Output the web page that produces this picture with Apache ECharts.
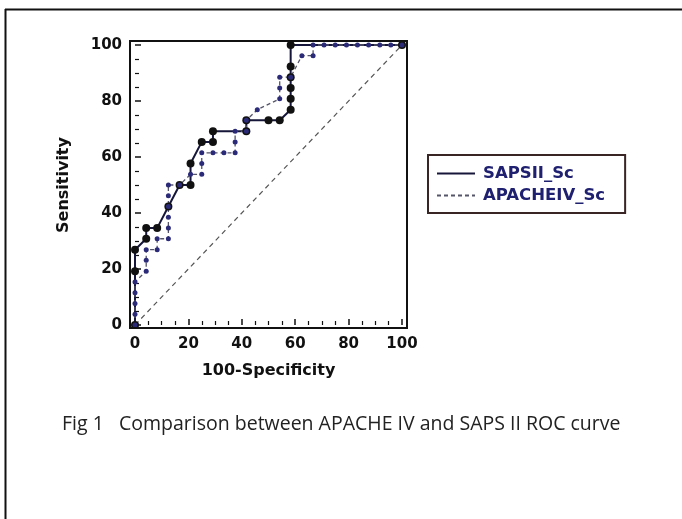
<!DOCTYPE html>
<html>
<head>
<meta charset="utf-8">
<script src="https://cdn.jsdelivr.net/npm/echarts@6/dist/echarts.min.js"></script>
<style>
  html, body { margin: 0; padding: 0; background: #fff; }
  #main { width: 682px; height: 519px; }
</style>
</head>
<body>
<div id="main"></div>
<script>
// ROC points (100-Specificity, Sensitivity)
const sapsX = [0, 0, 0, 4.2, 4.2, 8.3, 12.5, 16.7, 20.8, 20.8, 25, 29.2, 29.2, 41.7, 41.7, 50, 54.2, 58.3, 58.3, 58.3, 58.3, 58.3, 58.3, 100];
const sapsY = [0, 19.2, 26.9, 30.8, 34.6, 34.6, 42.3, 50, 50, 57.7, 65.4, 65.4, 69.2, 69.2, 73.1, 73.1, 73.1, 76.9, 80.8, 84.6, 88.5, 92.3, 100, 100];

const apacheX = [0, 0, 0, 0, 0, 4.2, 4.2, 4.2, 8.3, 8.3, 12.5, 12.5, 12.5, 12.5, 12.5, 12.5, 16.7, 20.8, 25, 25, 25, 29.2, 33.3, 37.5, 37.5, 37.5, 41.7, 41.7, 45.8, 54.2, 54.2, 54.2, 58.3, 62.5, 66.7, 66.7, 70.8, 75, 79.2, 83.3, 87.5, 91.7, 95.8, 100];
const apacheY = [0, 3.8, 7.7, 11.5, 15.4, 19.2, 23.1, 26.9, 26.9, 30.8, 30.8, 34.6, 38.5, 42.3, 46.2, 50, 50, 53.8, 53.8, 57.7, 61.5, 61.5, 61.5, 61.5, 65.4, 69.2, 69.2, 73.1, 76.9, 80.8, 84.6, 88.5, 88.5, 96.2, 96.2, 100, 100, 100, 100, 100, 100, 100, 100, 100];

const diagX = [0, 100];
const diagY = [0, 100];

const seriesNames = ['SAPSII_Sc', 'APACHEIV_Sc'];
const xTitle = '100-Specificity';
const yTitle = 'Sensitivity';
const caption = 'Fig 1   Comparison between APACHE IV and SAPS II ROC curve';

const zip = (xs, ys) => xs.map((x, i) => [x, ys[i]]);

const chart = echarts.init(document.getElementById('main'));

const labelFont = {
  color: '#111',
  fontFamily: 'DejaVu Sans',
  fontWeight: 'bold',
  fontSize: 15
};
const nameFont = Object.assign({}, labelFont, { fontSize: 16 });

const option = {
  backgroundColor: '#fff',
  animation: false,
  title: {
    text: caption,
    left: 57,
    top: 409,
    textStyle: {
      fontFamily: 'Open Sans',
      fontWeight: 'normal',
      fontSize: 19.5,
      color: '#222'
    }
  },
  grid: { left: 135, right: 280, top: 45, bottom: 194 },
  xAxis: {
    type: 'value',
    min: 0,
    max: 100,
    interval: 20,
    offset: 3,
    name: xTitle,
    nameLocation: 'middle',
    nameGap: 35,
    nameTextStyle: nameFont,
    axisLine: { show: false },
    axisTick: { show: true, inside: true, length: 6, lineStyle: { color: '#111', width: 1.5 } },
    minorTick: { show: true, splitNumber: 4, length: 4, lineStyle: { color: '#111', width: 1.2 } },
    axisLabel: Object.assign({ margin: 9 }, labelFont),
    splitLine: { show: false }
  },
  yAxis: {
    type: 'value',
    min: 0,
    max: 100,
    interval: 20,
    offset: 5,
    name: yTitle,
    nameLocation: 'middle',
    nameGap: 58,
    nameTextStyle: nameFont,
    axisLine: { show: false },
    axisTick: { show: true, inside: true, length: 6, lineStyle: { color: '#111', width: 1.5 } },
    minorTick: { show: true, splitNumber: 4, length: 4, lineStyle: { color: '#111', width: 1.2 } },
    axisLabel: Object.assign({ margin: 8 }, labelFont),
    splitLine: { show: false }
  },
  legend: {
    data: seriesNames,
    orient: 'vertical',
    left: 428,
    top: 155,
    padding: [10, 20, 9, 8],
    itemGap: 5,
    itemWidth: 38,
    itemHeight: 15,
    borderColor: '#3a2525',
    borderWidth: 2,
    itemStyle: { opacity: 0 },
    textStyle: {
      color: '#1f2070',
      fontFamily: 'DejaVu Sans',
      fontWeight: 'bold',
      fontSize: 16.5,
      padding: [0, 0, 0, 3]
    }
  },
  graphic: [
    { type: 'rect', shape: { x: 130, y: 41, width: 277, height: 287 }, style: { fill: null, stroke: '#111', lineWidth: 2 }, z: 50 },
    { type: 'line', shape: { x1: 5, y1: 9.5, x2: 682, y2: 9.5 }, style: { stroke: '#111', lineWidth: 2 } },
    { type: 'line', shape: { x1: 5.5, y1: 9, x2: 5.5, y2: 519 }, style: { stroke: '#111', lineWidth: 2 } }
  ],
  series: [
    {
      name: 'diag',
      type: 'line',
      data: zip(diagX, diagY),
      symbol: 'none',
      silent: true,
      lineStyle: { color: '#555', width: 1.2, type: [5, 4] }
    },
    {
      name: seriesNames[0],
      type: 'line',
      data: zip(sapsX, sapsY),
      clip: false,
      symbol: 'circle',
      symbolSize: 8,
      itemStyle: { color: '#111' },
      lineStyle: { color: '#16163a', width: 2 }
    },
    {
      name: seriesNames[1],
      type: 'line',
      data: zip(apacheX, apacheY),
      clip: false,
      symbol: 'circle',
      symbolSize: 5,
      itemStyle: { color: '#2a2a78' },
      lineStyle: { color: '#55556a', width: 1.3, type: [4, 3] }
    }
  ]
};

chart.setOption(option);
</script>
</body>
</html>
